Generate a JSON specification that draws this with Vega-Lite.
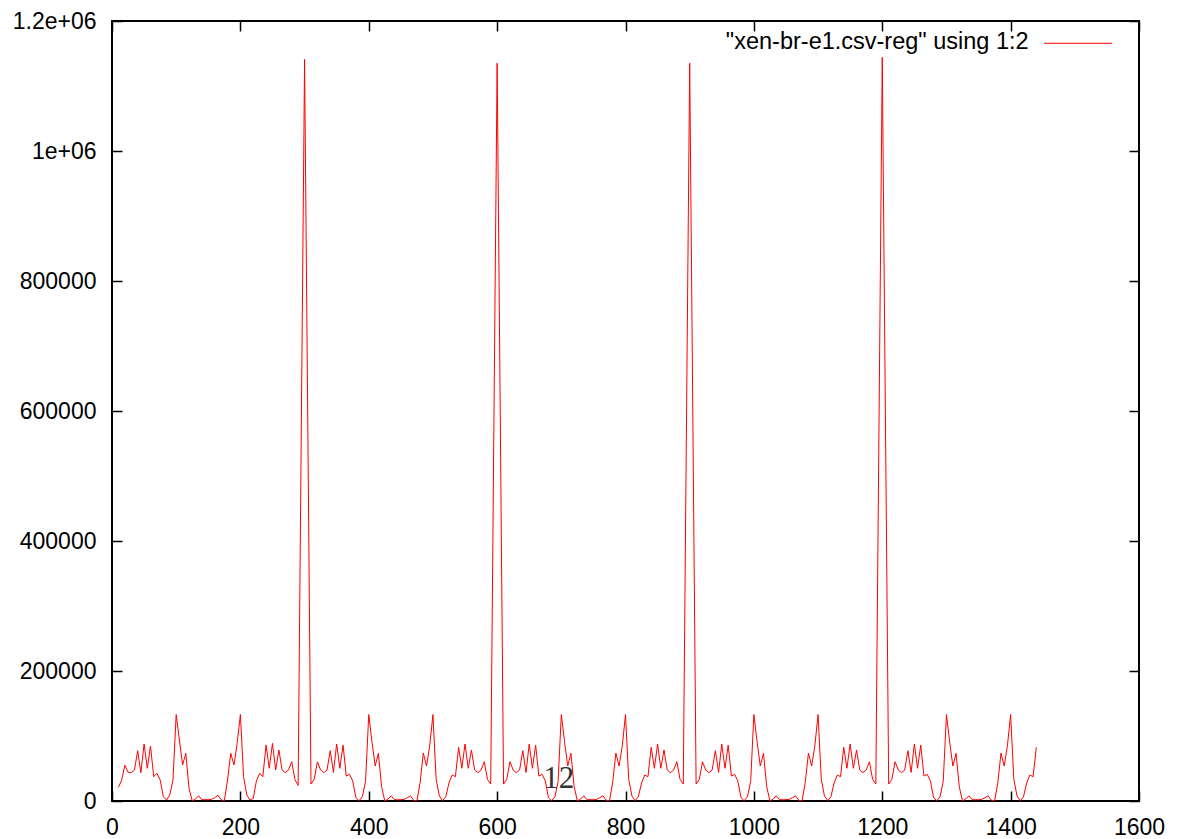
{
  "$schema": "https://vega.github.io/schema/vega-lite/v6.json",
  "width": 1027,
  "height": 780,
  "autosize": {"type": "none"},
  "padding": {"left": 112, "top": 21, "right": 41, "bottom": 38},
  "background": "white",
  "config": {
    "view": {"stroke": "#000000", "strokeWidth": 2},
    "axis": {
      "domain": false,
      "grid": false,
      "title": null,
      "tickColor": "#000000",
      "tickWidth": 1.5,
      "tickSize": -10,
      "labelFont": "Liberation Sans",
      "labelFontSize": 23,
      "labelColor": "#000000",
      "labelFlush": false,
      "labelOverlap": false,
      "labelBound": false
    }
  },
  "datasets": {
    "series": [
      {"x": 10, "y": 21000}, {"x": 15, "y": 32000}, {"x": 20, "y": 55000}, {"x": 25, "y": 44000}, {"x": 30, "y": 43600}, {"x": 35, "y": 47700}, {"x": 40, "y": 77400}, {"x": 45, "y": 43600}, {"x": 50, "y": 87700}, {"x": 55, "y": 50300}, {"x": 60, "y": 84600}, {"x": 65, "y": 37400}, {"x": 70, "y": 42600}, {"x": 75, "y": 32300}, {"x": 80, "y": 6600}, {"x": 85, "y": 1500}, {"x": 90, "y": 9200}, {"x": 95, "y": 32300}, {"x": 100, "y": 133000}, {"x": 105, "y": 93800}, {"x": 110, "y": 55400}, {"x": 115, "y": 73300}, {"x": 120, "y": 19500}, {"x": 125, "y": 0}, {"x": 130, "y": 3000}, {"x": 135, "y": 8000}, {"x": 140, "y": 2000}, {"x": 145, "y": 2000}, {"x": 150, "y": 2000}, {"x": 155, "y": 2500}, {"x": 160, "y": 5000}, {"x": 165, "y": 9000}, {"x": 170, "y": 2000}, {"x": 175, "y": 0}, {"x": 180, "y": 32300}, {"x": 185, "y": 73300}, {"x": 190, "y": 55400}, {"x": 195, "y": 88700}, {"x": 200, "y": 133000}, {"x": 205, "y": 37400}, {"x": 210, "y": 9200}, {"x": 215, "y": 1500}, {"x": 220, "y": 4000}, {"x": 225, "y": 30800}, {"x": 230, "y": 42600}, {"x": 235, "y": 37400}, {"x": 240, "y": 86000}, {"x": 245, "y": 50300}, {"x": 250, "y": 88700}, {"x": 255, "y": 47700}, {"x": 260, "y": 78500}, {"x": 265, "y": 47700}, {"x": 270, "y": 43600}, {"x": 275, "y": 47700}, {"x": 280, "y": 60600}, {"x": 285, "y": 33000}, {"x": 290, "y": 24000}, {"x": 300, "y": 1141000},
      {"x": 310, "y": 26100}, {"x": 315, "y": 33300}, {"x": 320, "y": 60400}, {"x": 325, "y": 47700}, {"x": 330, "y": 43600}, {"x": 335, "y": 47700}, {"x": 340, "y": 77400}, {"x": 345, "y": 44000}, {"x": 350, "y": 87700}, {"x": 355, "y": 50300}, {"x": 360, "y": 86000}, {"x": 365, "y": 38400}, {"x": 370, "y": 41000}, {"x": 375, "y": 31000}, {"x": 380, "y": 5000}, {"x": 385, "y": 500}, {"x": 390, "y": 6600}, {"x": 395, "y": 30000}, {"x": 400, "y": 133000}, {"x": 405, "y": 91200}, {"x": 410, "y": 53800}, {"x": 415, "y": 73300}, {"x": 420, "y": 22000}, {"x": 425, "y": 0}, {"x": 430, "y": 3000}, {"x": 435, "y": 8000}, {"x": 440, "y": 2000}, {"x": 445, "y": 2000}, {"x": 450, "y": 2000}, {"x": 455, "y": 2500}, {"x": 460, "y": 5000}, {"x": 465, "y": 8000}, {"x": 470, "y": 1000}, {"x": 475, "y": 0}, {"x": 480, "y": 28000}, {"x": 485, "y": 73800}, {"x": 490, "y": 53800}, {"x": 495, "y": 85000}, {"x": 500, "y": 133000}, {"x": 505, "y": 33300}, {"x": 510, "y": 7700}, {"x": 515, "y": 500}, {"x": 520, "y": 6600}, {"x": 525, "y": 27700}, {"x": 530, "y": 40000}, {"x": 535, "y": 37400}, {"x": 540, "y": 82600}, {"x": 545, "y": 50300}, {"x": 550, "y": 87700}, {"x": 555, "y": 50300}, {"x": 560, "y": 78500}, {"x": 565, "y": 47700}, {"x": 570, "y": 43600}, {"x": 575, "y": 47700}, {"x": 580, "y": 60400}, {"x": 585, "y": 33300}, {"x": 590, "y": 26100}, {"x": 600, "y": 1135000},
      {"x": 610, "y": 26100}, {"x": 615, "y": 33300}, {"x": 620, "y": 60400}, {"x": 625, "y": 47700}, {"x": 630, "y": 43600}, {"x": 635, "y": 47700}, {"x": 640, "y": 77400}, {"x": 645, "y": 44000}, {"x": 650, "y": 87700}, {"x": 655, "y": 50300}, {"x": 660, "y": 86000}, {"x": 665, "y": 38400}, {"x": 670, "y": 41000}, {"x": 675, "y": 31000}, {"x": 680, "y": 5000}, {"x": 685, "y": 500}, {"x": 690, "y": 6600}, {"x": 695, "y": 30000}, {"x": 700, "y": 133000}, {"x": 705, "y": 91200}, {"x": 710, "y": 53800}, {"x": 715, "y": 73300}, {"x": 720, "y": 22000}, {"x": 725, "y": 0}, {"x": 730, "y": 3000}, {"x": 735, "y": 8000}, {"x": 740, "y": 2000}, {"x": 745, "y": 2000}, {"x": 750, "y": 2000}, {"x": 755, "y": 2500}, {"x": 760, "y": 5000}, {"x": 765, "y": 8000}, {"x": 770, "y": 1000}, {"x": 775, "y": 0}, {"x": 780, "y": 28000}, {"x": 785, "y": 73800}, {"x": 790, "y": 53800}, {"x": 795, "y": 85000}, {"x": 800, "y": 133000}, {"x": 805, "y": 33300}, {"x": 810, "y": 7700}, {"x": 815, "y": 500}, {"x": 820, "y": 6600}, {"x": 825, "y": 27700}, {"x": 830, "y": 40000}, {"x": 835, "y": 37400}, {"x": 840, "y": 82600}, {"x": 845, "y": 50300}, {"x": 850, "y": 87700}, {"x": 855, "y": 50300}, {"x": 860, "y": 78500}, {"x": 865, "y": 47700}, {"x": 870, "y": 43600}, {"x": 875, "y": 47700}, {"x": 880, "y": 60400}, {"x": 885, "y": 33300}, {"x": 890, "y": 26100}, {"x": 900, "y": 1135000},
      {"x": 910, "y": 26100}, {"x": 915, "y": 33300}, {"x": 920, "y": 60400}, {"x": 925, "y": 47700}, {"x": 930, "y": 43600}, {"x": 935, "y": 47700}, {"x": 940, "y": 77400}, {"x": 945, "y": 44000}, {"x": 950, "y": 87700}, {"x": 955, "y": 50300}, {"x": 960, "y": 86000}, {"x": 965, "y": 38400}, {"x": 970, "y": 41000}, {"x": 975, "y": 31000}, {"x": 980, "y": 5000}, {"x": 985, "y": 500}, {"x": 990, "y": 6600}, {"x": 995, "y": 30000}, {"x": 1000, "y": 133000}, {"x": 1005, "y": 91200}, {"x": 1010, "y": 53800}, {"x": 1015, "y": 73300}, {"x": 1020, "y": 22000}, {"x": 1025, "y": 0}, {"x": 1030, "y": 3000}, {"x": 1035, "y": 8000}, {"x": 1040, "y": 2000}, {"x": 1045, "y": 2000}, {"x": 1050, "y": 2000}, {"x": 1055, "y": 2500}, {"x": 1060, "y": 5000}, {"x": 1065, "y": 8000}, {"x": 1070, "y": 1000}, {"x": 1075, "y": 0}, {"x": 1080, "y": 28000}, {"x": 1085, "y": 73800}, {"x": 1090, "y": 53800}, {"x": 1095, "y": 85000}, {"x": 1100, "y": 133000}, {"x": 1105, "y": 33300}, {"x": 1110, "y": 7700}, {"x": 1115, "y": 500}, {"x": 1120, "y": 6600}, {"x": 1125, "y": 27700}, {"x": 1130, "y": 40000}, {"x": 1135, "y": 37400}, {"x": 1140, "y": 82600}, {"x": 1145, "y": 50300}, {"x": 1150, "y": 87700}, {"x": 1155, "y": 50300}, {"x": 1160, "y": 78500}, {"x": 1165, "y": 47700}, {"x": 1170, "y": 43600}, {"x": 1175, "y": 47700}, {"x": 1180, "y": 60400}, {"x": 1185, "y": 33300}, {"x": 1190, "y": 26100}, {"x": 1200, "y": 1144000},
      {"x": 1210, "y": 26100}, {"x": 1215, "y": 33300}, {"x": 1220, "y": 60400}, {"x": 1225, "y": 47700}, {"x": 1230, "y": 43600}, {"x": 1235, "y": 47700}, {"x": 1240, "y": 77400}, {"x": 1245, "y": 44000}, {"x": 1250, "y": 87700}, {"x": 1255, "y": 50300}, {"x": 1260, "y": 86000}, {"x": 1265, "y": 38400}, {"x": 1270, "y": 41000}, {"x": 1275, "y": 31000}, {"x": 1280, "y": 5000}, {"x": 1285, "y": 500}, {"x": 1290, "y": 6600}, {"x": 1295, "y": 30000}, {"x": 1300, "y": 133000}, {"x": 1305, "y": 91200}, {"x": 1310, "y": 53800}, {"x": 1315, "y": 73300}, {"x": 1320, "y": 22000}, {"x": 1325, "y": 0}, {"x": 1330, "y": 3000}, {"x": 1335, "y": 8000}, {"x": 1340, "y": 2000}, {"x": 1345, "y": 2000}, {"x": 1350, "y": 2000}, {"x": 1355, "y": 2500}, {"x": 1360, "y": 5000}, {"x": 1365, "y": 8000}, {"x": 1370, "y": 1000}, {"x": 1375, "y": 0}, {"x": 1380, "y": 28000}, {"x": 1385, "y": 73800}, {"x": 1390, "y": 53800}, {"x": 1395, "y": 85000}, {"x": 1400, "y": 133000}, {"x": 1405, "y": 33300}, {"x": 1410, "y": 7700}, {"x": 1415, "y": 500}, {"x": 1420, "y": 6600}, {"x": 1425, "y": 27700}, {"x": 1430, "y": 40000}, {"x": 1435, "y": 37400}, {"x": 1440, "y": 82600}
    ],
    "legendText": [{"x": 1428, "y": 1157000, "label": "\"xen-br-e1.csv-reg\" using 1:2"}],
    "legendLine": [{"x": 1452, "x2": 1558, "y": 1165700}],
    "note": [{"x": 696, "y": 20000, "label": "12"}]
  },
  "resolve": {"axis": {"x": "independent", "y": "independent"}},
  "layer": [
    {
      "data": {"name": "series"},
      "mark": {"type": "line", "color": "#ff0000", "strokeWidth": 1, "clip": true},
      "encoding": {
        "x": {"field": "x", "type": "quantitative", "scale": {"domain": [0, 1600], "nice": false, "zero": false},
              "axis": {"orient": "bottom", "values": [0, 200, 400, 600, 800, 1000, 1200, 1400, 1600], "labelPadding": 25,
                       "labelExpr": "format(datum.value, 'd')"}},
        "y": {"field": "y", "type": "quantitative", "scale": {"domain": [0, 1200000], "nice": false, "zero": false},
              "axis": {"orient": "left", "values": [0, 200000, 400000, 600000, 800000, 1000000, 1200000], "labelPadding": 26,
                       "labelExpr": "datum.value == 1000000 ? '1e+06' : datum.value == 1200000 ? '1.2e+06' : format(datum.value, 'd')"}}
      }
    },
    {
      "data": {"name": "legendLine"},
      "mark": {"type": "rule", "color": "#ff0000", "strokeWidth": 1},
      "encoding": {
        "x": {"field": "x", "type": "quantitative", "scale": {"domain": [0, 1600], "nice": false, "zero": false},
              "axis": {"orient": "top", "values": [0, 200, 400, 600, 800, 1000, 1200, 1400, 1600], "labels": false}},
        "x2": {"field": "x2"},
        "y": {"field": "y", "type": "quantitative", "scale": {"domain": [0, 1200000], "nice": false, "zero": false},
              "axis": {"orient": "right", "values": [0, 200000, 400000, 600000, 800000, 1000000, 1200000], "labels": false}}
      }
    },
    {
      "data": {"name": "legendText"},
      "mark": {"type": "text", "align": "right", "baseline": "alphabetic", "font": "Liberation Sans", "fontSize": 23.5, "color": "#000000"},
      "encoding": {
        "x": {"field": "x", "type": "quantitative", "axis": null},
        "y": {"field": "y", "type": "quantitative", "axis": null},
        "text": {"field": "label"}
      }
    },
    {
      "data": {"name": "note"},
      "mark": {"type": "text", "align": "center", "baseline": "alphabetic", "font": "Liberation Serif", "fontSize": 31, "color": "#333333"},
      "encoding": {
        "x": {"field": "x", "type": "quantitative", "axis": null},
        "y": {"field": "y", "type": "quantitative", "axis": null},
        "text": {"field": "label"}
      }
    }
  ]
}
